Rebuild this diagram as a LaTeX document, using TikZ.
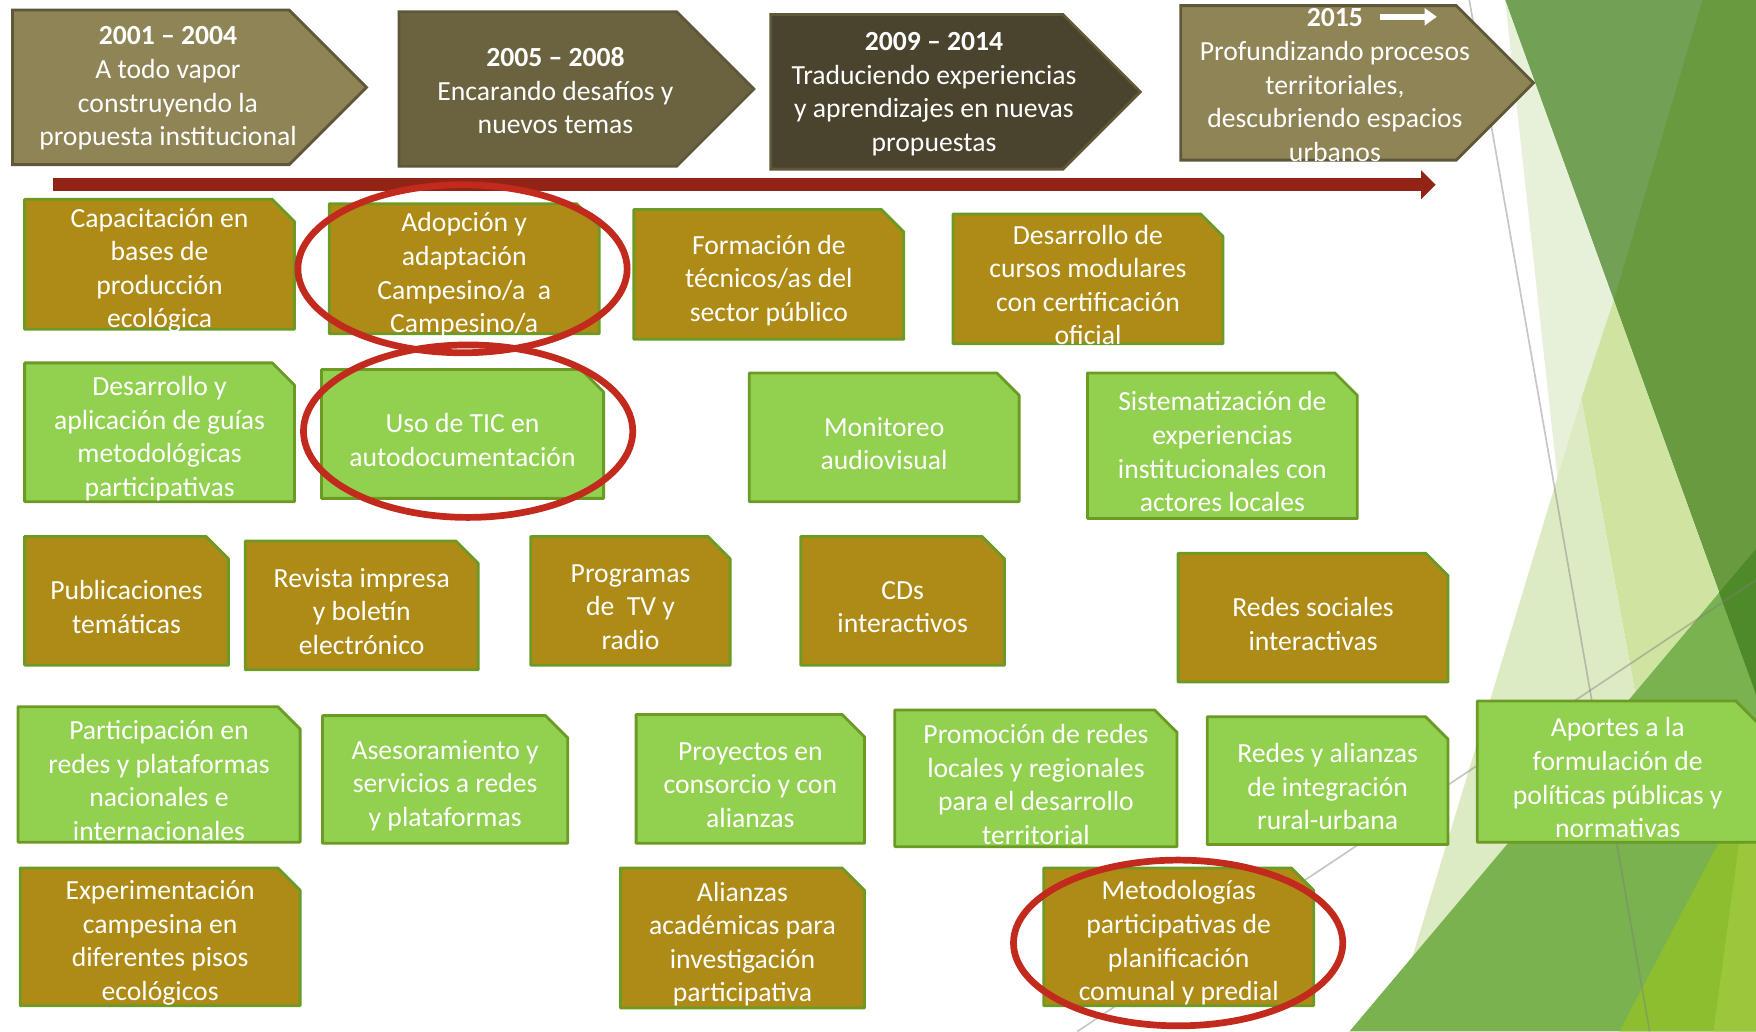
\documentclass[tikz,border=0pt]{standalone}
\usepackage{fontspec}
\setmainfont{Carlito}
\usetikzlibrary{arrows.meta,shapes.symbols,shapes.geometric}
\definecolor{BoxBrown}{HTML}{AE8B17}
\definecolor{BoxGreen}{HTML}{92D050}
\definecolor{BoxEdge}{HTML}{6B9A25}
\definecolor{HdrLight}{HTML}{8F8455}
\definecolor{HdrMid}{HTML}{6B6340}
\definecolor{HdrDark}{HTML}{4A432D}
\definecolor{HdrEdge}{HTML}{5E5838}
\definecolor{TimeRed}{HTML}{922416}
\definecolor{RingRed}{HTML}{C12A1C}
\definecolor{FacetDark}{HTML}{6A9A40}
\definecolor{FacetTop}{HTML}{72A054}
\definecolor{FacetPale}{HTML}{E7F0D9}
\definecolor{FacetLight}{HTML}{CFE4A0}
\definecolor{FacetMist}{HTML}{DDEBC5}
\definecolor{FacetMid}{HTML}{79B24E}
\definecolor{FacetDeep}{HTML}{4E8A2A}
\definecolor{FacetLime}{HTML}{8CBE2F}
\definecolor{FacetYellow}{HTML}{9CC63B}

\tikzset{
  snipedge/.style={draw=BoxEdge,line width=2.5pt,line join=round},
  brownbox/.style={snipedge,fill=BoxBrown},
  greenbox/.style={snipedge,fill=BoxGreen},
  boxtext/.style={text=white,align=center,font=\fontsize{24.7}{30}\selectfont,yshift=-5.5pt},
  period/.style={signal,signal to=east,signal from=nowhere,signal pointer angle=90,
    draw=HdrEdge,line width=2.5pt,inner sep=0pt,anchor=west,minimum height=138pt},
  hdrtext/.style={text=white,align=center,font=\fontsize{24.7}{30}\selectfont},
  redring/.style={ellipse,draw=RingRed,line width=6pt,inner sep=0pt},
  facetline/.style={gray,line width=1.5pt,opacity=.45}
}

% box with snipped top right corner: style, name, x, y, width, height, text
\newcommand{\snipbox}[7]{%
  \draw[#1] (#3,#4) -- ++(#5-20,0) -- ++(20,20) -- ++(0,#6-20) -- ++(-#5,0) -- cycle;
  \node[boxtext] (#2) at (#3+#5/2,#4+#6/2) {#7};
}

\begin{document}
\begin{tikzpicture}[x=1pt,y=-1pt]
\useasboundingbox (0,0) rectangle (1568,921);

\fill[FacetDark] (1344,0) -- (1568,0) -- (1568,620) -- cycle;
\fill[FacetTop] (1344,0) -- (1520,0) -- (1441,268) -- cycle;
\fill[FacetPale] (1344,0) -- (1441,268) -- (1391,430) -- cycle;
\fill[FacetLight] (1441,268) -- (1535,529) -- (1460,618) -- (1412,356) -- cycle;
\fill[FacetMist] (1412,356) -- (1460,618) -- (1261,855) -- cycle;
\fill[FacetMid] (1205,921) -- (1568,490) -- (1568,921) -- cycle;
\fill[FacetDeep] (1535,529) -- (1568,490) -- (1568,620) -- cycle;
\fill[FacetLime] (1446,921) -- (1568,689) -- (1568,921) -- cycle;
\fill[FacetYellow] (1530,921) -- (1560,700) -- (1568,700) -- (1568,921) -- cycle;
\draw[facetline] (1312,0) -- (1473,921);
\draw[facetline] (962,921) -- (1568,518);

\coordinate (tl-start) at (47,165);
\coordinate (tl-end) at (1282,165);
\draw[TimeRed,line width=11.5pt,-{Triangle[length=13pt,width=25pt]}] (tl-start) -- (tl-end);

\node[period,fill=HdrLight,minimum width=316pt] (p1) at (10,78) {};
\node[period,fill=HdrMid,minimum width=317pt] (p2) at (355,79.5) {};
\node[period,fill=HdrDark,minimum width=330pt] (p3) at (687,82) {};
\node[period,fill=HdrLight,minimum width=315pt] (p4) at (1053,74) {};
\node[hdrtext] (p1-t) at (150,79) {\textbf{2001 – 2004}\\A todo vapor\\construyendo la\\propuesta institucional};
\node[hdrtext] (p2-t) at (496,81) {\textbf{2005 – 2008}\\Encarando desafíos y\\nuevos temas};
\node[hdrtext] (p3-t) at (834,84) {\textbf{2009 – 2014}\\Traduciendo experiencias\\y aprendizajes en nuevas\\propuestas};
\node[hdrtext] (p4-t) at (1192,76) {\textbf{2015}\\Profundizando procesos\\territoriales,\\descubriendo espacios\\urbanos};
\coordinate (y15-start) at (1232,15);
\coordinate (y15-end) at (1283,15);
\draw[white,line width=5.5pt,-{Triangle[length=11pt,width=15pt]}] (y15-start) -- (y15-end);

\snipbox{brownbox}{cap}{22}{178}{241}{116}{Capacitación en\\bases de\\producción\\ecológica}
\snipbox{brownbox}{adop}{294}{182}{241}{116}{Adopción y\\adaptación\\Campesino/a\ \ a\\Campesino/a}
\snipbox{brownbox}{form}{566}{187}{241}{116}{Formación de\\técnicos/as del\\sector público}
\snipbox{brownbox}{curs}{851}{191}{241}{116}{Desarrollo de\\cursos modulares\\con certificación\\oficial}

\snipbox{greenbox}{guia}{22}{324}{241}{124}{Desarrollo y\\aplicación de guías\\metodológicas\\participativas}
\snipbox{greenbox}{tic}{287}{330}{252}{115}{Uso de TIC en\\autodocumentación}
\snipbox{greenbox}{moni}{669}{333}{241}{115}{Monitoreo\\audiovisual}
\snipbox{greenbox}{sist}{971}{333}{241}{130}{Sistematización de\\experiencias\\institucionales con\\actores locales}

\snipbox{brownbox}{publ}{22}{479}{182}{115}{Publicaciones\\temáticas}
\snipbox{brownbox}{revi}{219}{483}{208}{115}{Revista impresa\\y boletín\\electrónico}
\snipbox{brownbox}{prog}{474}{479}{178}{115}{Programas\\de\ \ TV y\\radio}
\snipbox{brownbox}{cds}{715}{479}{182}{115}{CDs\\interactivos}
\snipbox{brownbox}{rsoc}{1052}{494}{241}{115}{Redes sociales\\interactivas}

\snipbox{greenbox}{part}{16}{631}{252}{121}{Participación en\\redes y plataformas\\nacionales e\\internacionales}
\snipbox{greenbox}{ases}{288}{639}{219}{114}{Asesoramiento y\\servicios a redes\\y plataformas}
\snipbox{greenbox}{proy}{568}{638}{204}{115}{Proyectos en\\consorcio y con\\alianzas}
\snipbox{greenbox}{prom}{799}{634}{252}{122}{Promoción de redes\\locales y regionales\\para el desarrollo\\territorial}
\snipbox{greenbox}{rura}{1078}{640}{215}{114}{Redes y alianzas\\de integración\\rural-urbana}
\snipbox{greenbox}{apor}{1319}{626}{251}{126}{Aportes a la\\formulación de\\políticas públicas y\\normativas}

\snipbox{brownbox}{expe}{18}{775}{250}{123}{Experimentación\\campesina en\\diferentes pisos\\ecológicos}
\snipbox{brownbox}{alia}{554}{775}{218}{125}{Alianzas\\académicas para\\investigación\\participativa}
\snipbox{brownbox}{meto}{932}{775}{241}{123}{Metodologías\\participativas de\\planificación\\comunal y predial}

\node[redring,minimum width=294pt,minimum height=150pt] (adop-ring) at (413,240) {};
\node[redring,minimum width=294pt,minimum height=154pt] (tic-ring) at (418,385) {};
\node[redring,minimum width=294pt,minimum height=148pt] (meto-ring) at (1052,842) {};

\end{tikzpicture}
\end{document}
